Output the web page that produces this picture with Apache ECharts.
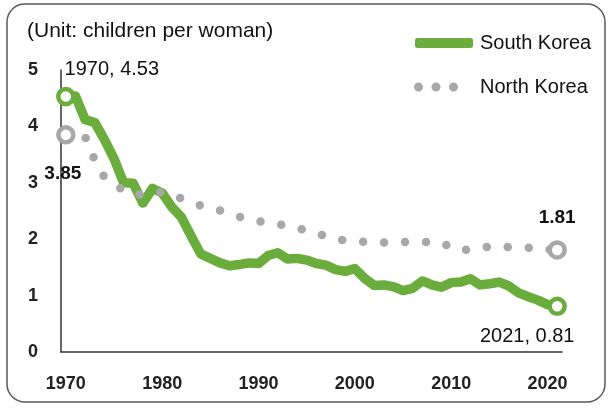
<!DOCTYPE html>
<html>
<head>
<meta charset="utf-8">
<script src="https://cdn.jsdelivr.net/npm/echarts@6/dist/echarts.min.js"></script>
<style>
  html, body { margin: 0; padding: 0; background: #fff; }
  #chart { width: 611px; height: 408px; }
</style>
</head>
<body>
<div id="chart"></div>
<script>
const years = [];
for (let y = 1970; y <= 2021; y++) years.push(String(y));

// total fertility rate
const southKorea = [
  4.53, 4.54, 4.12, 4.07, 3.77, 3.43, 3.00, 2.99, 2.64, 2.90,
  2.82, 2.57, 2.39, 2.06, 1.74, 1.66, 1.58, 1.53, 1.55, 1.58,
  1.57, 1.71, 1.76, 1.65, 1.66, 1.63, 1.57, 1.54, 1.46, 1.43,
  1.48, 1.31, 1.18, 1.19, 1.16, 1.09, 1.13, 1.26, 1.19, 1.15,
  1.23, 1.24, 1.30, 1.19, 1.21, 1.24, 1.17, 1.05, 0.98, 0.92,
  0.84, 0.81
];
const northKorea = [
  3.85, 3.86, 3.82, 3.40, 3.10, 2.98, 2.86, 2.78, 2.80, 2.84,
  2.83, 2.80, 2.72, 2.64, 2.60, 2.56, 2.51, 2.46, 2.40, 2.35,
  2.32, 2.30, 2.27, 2.23, 2.20, 2.15, 2.11, 2.05, 2.00, 1.98,
  1.97, 1.95, 1.93, 1.94, 1.95, 1.95, 1.95, 1.95, 1.95, 1.94,
  1.85, 1.79, 1.83, 1.86, 1.86, 1.86, 1.86, 1.86, 1.85, 1.83,
  1.82, 1.81
];

const GREEN = '#6aad3c';
const GRAY = '#a8a8a8';
const last = years.length - 1;
const DOTS = 'path://M0,4.5a4.5,4.5 0 1,0 9,0a4.5,4.5 0 1,0 -9,0M17.5,4.5a4.5,4.5 0 1,0 9,0a4.5,4.5 0 1,0 -9,0M35,4.5a4.5,4.5 0 1,0 9,0a4.5,4.5 0 1,0 -9,0Z';

const endSize = (val, params) => (params.dataIndex === 0 || params.dataIndex === last ? 15 : 0);

const skData = southKorea.map((v, i) => {
  if (i === 0) {
    return { value: v, label: { show: true, position: 'top', offset: [46, -2], formatter: '1970, 4.53', fontSize: 20 } };
  }
  if (i === last) {
    return { value: v, label: { show: true, position: 'bottom', offset: [-30, 5], formatter: '2021, 0.81', fontSize: 20 } };
  }
  return v;
});
const nkData = northKorea.map((v, i) => {
  if (i === 0) {
    return { value: v, label: { show: true, position: 'bottom', offset: [-3, 15], formatter: '3.85', fontWeight: 'bold', fontSize: 19 } };
  }
  if (i === last) {
    return { value: v, label: { show: true, position: 'top', offset: [0, -8], formatter: '1.81', fontWeight: 'bold', fontSize: 19 } };
  }
  return v;
});

const chart = echarts.init(document.getElementById('chart'), null, { renderer: 'canvas' });

chart.setOption({
  animation: false,
  textStyle: { fontFamily: 'Liberation Sans, Arial, sans-serif', color: '#111' },
  title: {
    text: '(Unit: children per woman)',
    left: 22,
    top: 16,
    textStyle: { fontSize: 21, fontWeight: 'normal', color: '#111' },
  },
  graphic: [{
    type: 'rect',
    shape: { x: 7, y: 4, width: 598, height: 398, r: 18 },
    style: { fill: 'none', stroke: '#5a5a5a', lineWidth: 1.5 },
    silent: true,
  }],
  legend: [
    {
      data: [{ name: 'South Korea', icon: 'roundRect', itemStyle: { color: GREEN, borderWidth: 0 } }],
      left: 415,
      top: 33,
      padding: 0,
      itemWidth: 58,
      itemHeight: 10,
      textStyle: { fontSize: 20, color: '#111', padding: [0, 0, 0, 2] },
    },
    {
      data: [{ name: 'North Korea', icon: DOTS, itemStyle: { color: GRAY, borderWidth: 0 } }],
      left: 414,
      top: 77,
      padding: 0,
      itemWidth: 44,
      itemHeight: 9,
      textStyle: { fontSize: 20, color: '#111', padding: [0, 0, 0, 17] },
    },
  ],
  grid: { left: 61, right: 49, top: 70, bottom: 56, containLabel: false },
  xAxis: {
    type: 'category',
    data: years,
    boundaryGap: true,
    axisLine: { lineStyle: { color: '#333', width: 1.5 } },
    axisTick: { interval: (i) => i % 5 === 0, length: 6, lineStyle: { color: '#333', width: 1.5 } },
    axisLabel: {
      interval: (i) => i % 10 === 0,
      fontSize: 18,
      fontWeight: 'bold',
      color: '#222',
      margin: 23,
    },
    splitLine: { show: false },
  },
  yAxis: {
    type: 'value',
    min: 0,
    max: 5,
    interval: 1,
    axisLine: { show: true, lineStyle: { color: '#333', width: 1.5 } },
    axisTick: { show: false },
    axisLabel: { fontSize: 18, fontWeight: 'bold', color: '#222', margin: 23 },
    splitLine: { show: false },
  },
  series: [
    {
      name: 'South Korea',
      type: 'line',
      data: skData,
      z: 3,
      symbol: 'circle',
      showAllSymbol: true,
      symbolSize: endSize,
      itemStyle: { color: '#fff', borderColor: GREEN, borderWidth: 4.5 },
      lineStyle: { color: GREEN, width: 9.5, cap: 'round', join: 'round' },
      label: { color: '#111' },
    },
    {
      name: 'North Korea',
      type: 'line',
      data: nkData,
      z: 4,
      symbol: 'circle',
      showAllSymbol: true,
      symbolSize: endSize,
      itemStyle: { color: '#fff', borderColor: GRAY, borderWidth: 4.5 },
      lineStyle: { color: GRAY, width: 8.5, type: [0, 21], cap: 'round', join: 'round' },
      label: { color: '#111' },
    },
  ],
});
</script>
</body>
</html>
